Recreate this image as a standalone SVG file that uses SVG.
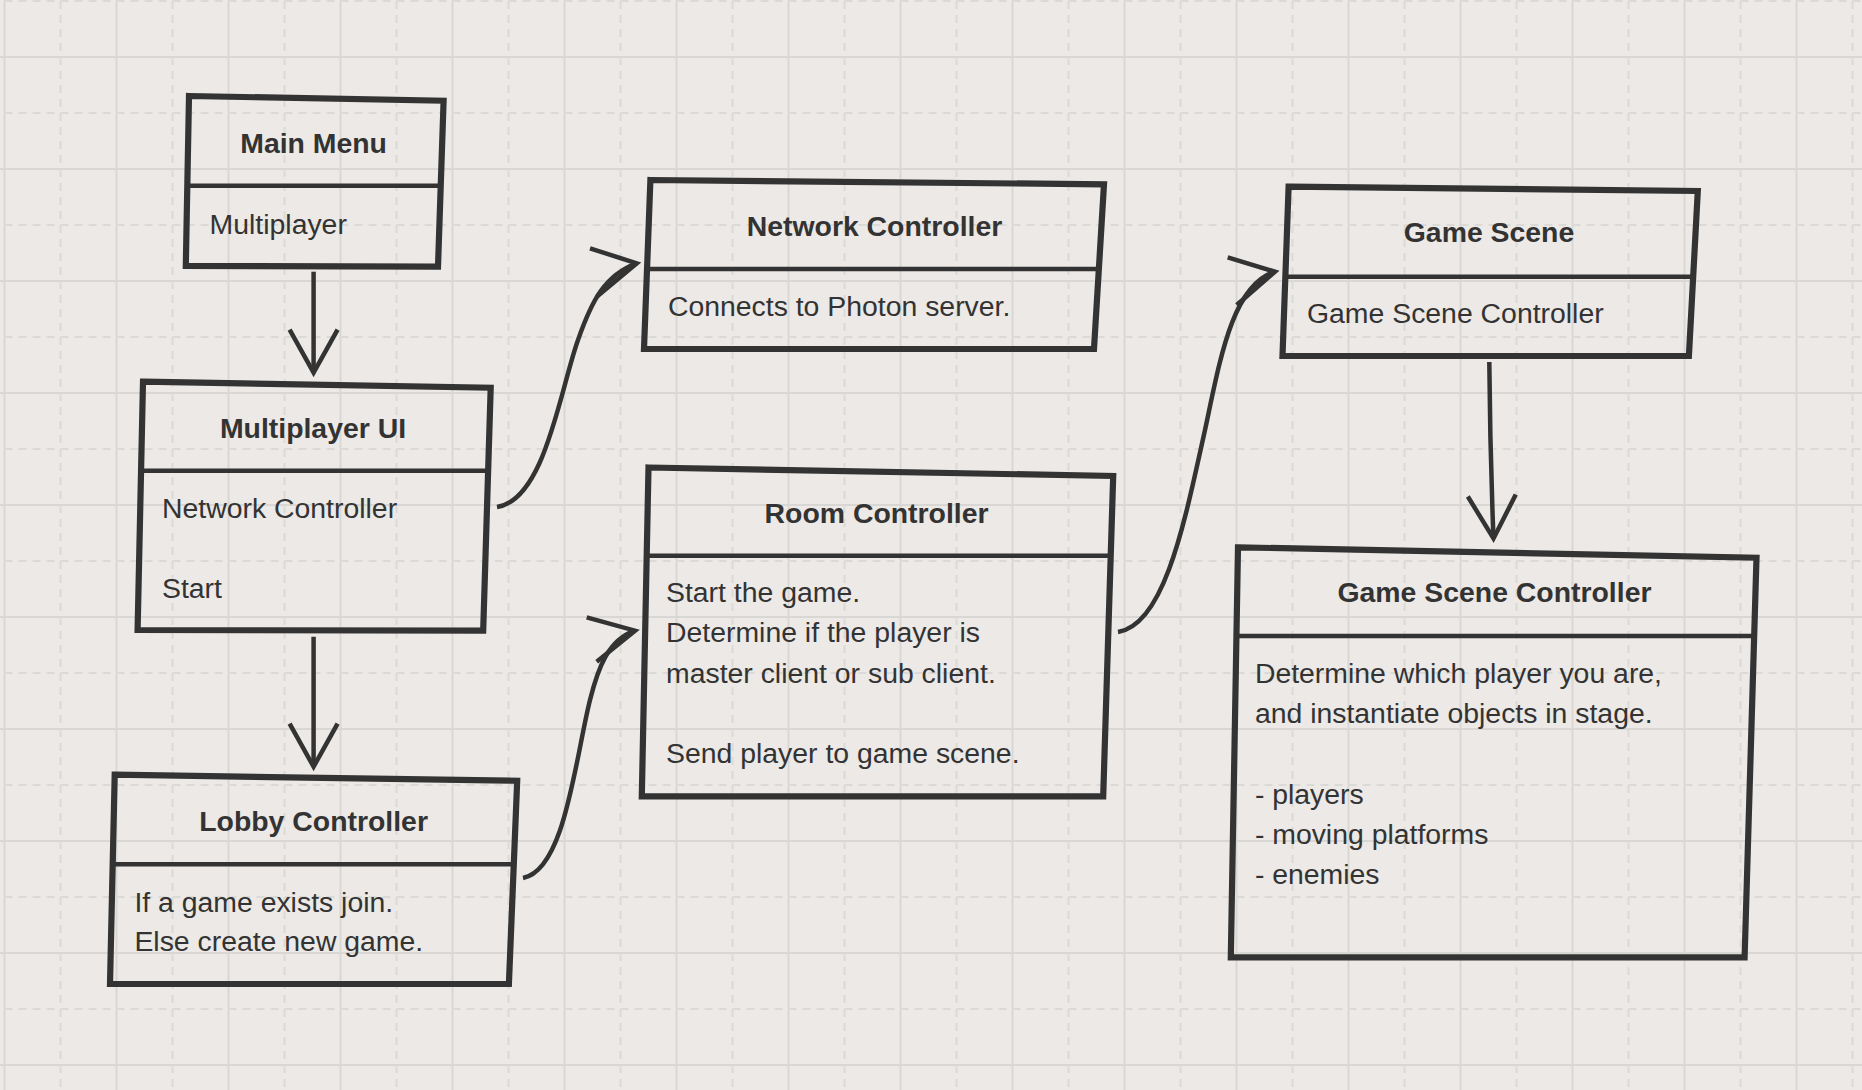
<svg xmlns="http://www.w3.org/2000/svg" width="1862" height="1090" viewBox="0 0 1862 1090">
<style>
.bg{fill:#ece9e6}
.gs{fill:none;stroke:#d9d7d4;stroke-width:2}
.gd{fill:none;stroke:#dcdad7;stroke-width:2;stroke-dasharray:8 6}
.box{fill:none;stroke:#333;stroke-width:6.2;stroke-linejoin:miter}
.div{fill:none;stroke:#333;stroke-width:4.5}
.ln{fill:none;stroke:#333;stroke-width:4.5;stroke-linecap:butt;stroke-linejoin:miter}
.t{font-family:"Liberation Sans",Arial,Helvetica,sans-serif;font-size:28.4px;fill:#333}
.h{font-weight:bold;text-anchor:middle}
</style>
<defs>
<pattern id="grid" patternUnits="userSpaceOnUse" x="88.5" y="29" width="112" height="112">
<path class="gs" d="M28 0V112M0 28H112"/>
<path class="gd" d="M84 0V112M0 84H112"/>
</pattern>
<marker id="openV" markerUnits="userSpaceOnUse" markerWidth="60" markerHeight="60" viewBox="-50 -30 60 60" refX="0" refY="0" orient="auto" overflow="visible">
<path d="M-43,-24 L0,0 L-43,24" fill="none" stroke="#333" stroke-width="4.5"/>
</marker>
</defs>
<rect class="bg" x="0" y="0" width="1862" height="1090"/>
<rect x="0" y="0" width="1862" height="1090" fill="url(#grid)"/>

<g id="connectors">
<path class="ln" d="M313.6,271.7 L313.6,372.7" marker-end="url(#openV)"/>
<path class="ln" d="M313.6,636.7 L313.6,766.7" marker-end="url(#openV)"/>
<path class="ln" d="M1489.3,362 Q1490,450 1493.5,538.5" marker-end="url(#openV)"/>
<path class="ln" d="M497,507 C545,500 560,390 578,340 C592,300 605,275 636.7,263.3"/>
<path class="ln" d="M590,248.3 L636.7,263.3 L596.7,296.7"/>
<path class="ln" d="M523,878 C565,870 575,760 590,700 C598,668 608,640 635,630.7"/>
<path class="ln" d="M586.7,617.3 L635,630.7 L596.7,661.7"/>
<path class="ln" d="M1118,632 C1165,625 1185,520 1205,430 C1220,360 1232,285 1275,271.7"/>
<path class="ln" d="M1227.7,257.3 L1275,271.7 L1236.7,305"/>
</g>

<g id="main-menu">
<polygon class="box" points="189,96 443.6,100.7 438,266.7 185.8,266"/>
<line class="div" x1="189" y1="185.7" x2="441" y2="185.7"/>
<text class="t h" x="313.6" y="153.3">Main Menu</text>
<text class="t" x="209.6" y="234.3">Multiplayer</text>
</g>

<g id="multiplayer-ui">
<polygon class="box" points="143,381.7 490.7,387.7 483.2,630.7 137.6,630"/>
<line class="div" x1="141" y1="470.7" x2="487" y2="470.7"/>
<text class="t h" x="313" y="438.3">Multiplayer UI</text>
<text class="t" x="162" y="518.3">Network Controller</text>
<text class="t" x="162" y="598.3">Start</text>
</g>

<g id="lobby-controller">
<polygon class="box" points="114.7,774.7 517.2,780.7 508.9,984 110,984"/>
<line class="div" x1="113" y1="864.3" x2="513" y2="864.3"/>
<text class="t h" x="313.6" y="831">Lobby Controller</text>
<text class="t" x="134.4" y="911.7">If a game exists join.</text>
<text class="t" x="134.4" y="950.7">Else create new game.</text>
</g>

<g id="network-controller">
<polygon class="box" points="650.4,180 1104,184.3 1094,349 644,349"/>
<line class="div" x1="648" y1="269" x2="1099" y2="269"/>
<text class="t h" x="874.5" y="236">Network Controller</text>
<text class="t" x="667.9" y="315.7">Connects to Photon server.</text>
</g>

<g id="room-controller">
<polygon class="box" points="648.5,467.5 1113.2,476 1103.2,796.3 641.8,796.3"/>
<line class="div" x1="646" y1="555.7" x2="1110" y2="555.7"/>
<text class="t h" x="876.6" y="523.3">Room Controller</text>
<text class="t" x="666" y="602.3">Start the game.</text>
<text class="t" x="666" y="642.3">Determine if the player is</text>
<text class="t" x="666" y="682.7">master client or sub client.</text>
<text class="t" x="666" y="763.3">Send player to game scene.</text>
</g>

<g id="game-scene">
<polygon class="box" points="1288.6,186.7 1697.8,191 1688.9,356 1282.5,356"/>
<line class="div" x1="1286" y1="276.7" x2="1693" y2="276.7"/>
<text class="t h" x="1489" y="241.7">Game Scene</text>
<text class="t" x="1307" y="322.7">Game Scene Controller</text>
</g>

<g id="game-scene-controller">
<polygon class="box" points="1238,547.3 1756.5,557.7 1744.6,957.3 1230.8,957.3"/>
<line class="div" x1="1235" y1="636" x2="1753" y2="636"/>
<text class="t h" x="1494.5" y="601.7">Game Scene Controller</text>
<text class="t" x="1254.9" y="683.3">Determine which player you are,</text>
<text class="t" x="1254.9" y="722.7">and instantiate objects in stage.</text>
<text class="t" x="1254.9" y="804">- players</text>
<text class="t" x="1254.9" y="844">- moving platforms</text>
<text class="t" x="1254.9" y="884">- enemies</text>
</g>
</svg>
